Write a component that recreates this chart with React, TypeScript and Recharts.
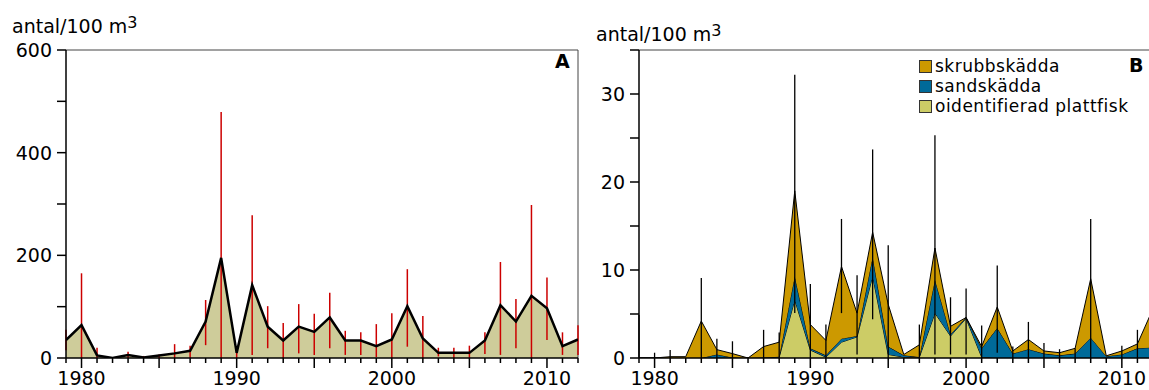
import React from "react";
import {
  ComposedChart,
  Area,
  Line,
  XAxis,
  YAxis,
  ErrorBar,
  ReferenceLine,
} from "recharts";

// years shared by both panels
const years = [
  1979, 1980, 1981, 1982, 1983, 1984, 1985, 1986, 1987, 1988, 1989, 1990,
  1991, 1992, 1993, 1994, 1995, 1996, 1997, 1998, 1999, 2000, 2001, 2002,
  2003, 2004, 2005, 2006, 2007, 2008, 2009, 2010, 2011, 2012,
];

// panel A: total flatfish (antal/100 m3)
const meanA = [
  35, 64, 5, 0, 6, 1, 5, 9, 14, 71, 195, 10, 142, 61, 34, 61, 51, 79, 34, 34,
  23, 36, 101, 38, 10, 10, 10, 34, 103, 71, 121, 97, 23, 36,
];
const lowA = [
  15, 0, 0, 0, 0, 0, 0, 0, 0, 25, 0, 0, 6, 19, 0, 9, 6, 19, 6, 6, 2, 0, 22, 0,
  3, 0, 0, 8, 6, 19, 0, 35, 6, 6,
];
const highA = [
  55, 165, 20, 2, 12, 4, 7, 27, 24, 113, 479, 14, 278, 101, 68, 105, 86, 127,
  53, 50, 66, 87, 173, 82, 20, 20, 24, 50, 187, 115, 298, 157, 50, 64,
];

// panel B: per species
const skrubbskadda = [
  0, 0, 0.15, 0.15, 4.2, 0.55, 0.45, 0, 1.25, 1.65, 9.7, 2.7, 1.7, 8.2, 2.6,
  2.8, 4.8, 0.1, 1.4, 3.6, 0.9, 0, 0.2, 2.4, 0.3, 1.1, 0.3, 0.3, 0.6, 6.7,
  0.05, 0.4, 0.5, 4.4,
];
const sandskadda = [
  0, 0, 0, 0, 0, 0.4, 0.05, 0, 0.05, 0.05, 2.7, 0.2, 0.2, 0.4, 0.1, 2.2, 0.9,
  0.2, 0, 3.8, 0.2, 0.1, 1.0, 3.4, 0.5, 1.0, 0.5, 0.3, 0.5, 2.3, 0.2, 0.4, 1.1,
  1.2,
];
const oidentifierad = [
  0, 0, 0, 0, 0, 0, 0, 0, 0, 0.1, 6.6, 0.9, 0.1, 1.8, 2.4, 9.3, 0.4, 0.1, 0.1,
  5.1, 2.5, 4.5, 0.1, 0, 0, 0, 0, 0, 0, 0, 0, 0, 0, 0,
];
const lowB = [
  0, 0, 0, 0.15, 0, 0, 0, 0, 0, 0, 5.1, 0, 0, 5.1, 0.4, 4.4, 0, 0.4, 0, 0.4,
  0.4, 0.4, 0, 0.6, 0, 0, 0, 0, 0, 0, 0.25, 0, 0, 0,
];
const highB = [
  4.9, 0.6, 0.9, 0.15, 9.1, 2.2, 1.9, 0, 3.2, 2.9, 32.2, 8.4, 3.8, 15.8, 9.4,
  23.7, 12.8, 0.4, 3.8, 25.3, 6.9, 7.9, 3.7, 10.5, 1.3, 4.1, 1.7, 1.0, 1.1,
  15.8, 0.25, 1.4, 3.2, 6.5,
];

const dataA = years.map((year, i) => ({
  year,
  mean: meanA[i],
  err: [Math.max(0, meanA[i] - lowA[i]), Math.max(0, highA[i] - meanA[i])],
}));

const dataB = years.map((year, i) => {
  const total = skrubbskadda[i] + sandskadda[i] + oidentifierad[i];
  return {
    year,
    skrubb: skrubbskadda[i],
    sand: sandskadda[i],
    oid: oidentifierad[i],
    total,
    err: [Math.max(0, total - lowB[i]), Math.max(0, highB[i] - total)],
  };
});

const FONT = "'DejaVu Sans', 'Liberation Sans', Arial, sans-serif";

const YearTick = (props: any) => {
  const { x, y, payload } = props;
  const yr = payload.value;
  const len = yr % 5 === 0 ? 10 : 5;
  return (
    <g>
      <line x1={x} x2={x} y1={y} y2={y + len} stroke="#000" strokeWidth={1.5} />
      {yr % 10 === 0 && (
        <text x={x} y={y + 27} textAnchor="middle" fontSize={19} fill="#000" fontFamily={FONT}>
          {yr}
        </text>
      )}
    </g>
  );
};

const makeValueTick = (labelEvery: number) => (props: any) => {
  const { x, y, payload } = props;
  const v = payload.value;
  return (
    <g>
      <line x1={x - 9} x2={x} y1={y} y2={y} stroke="#000" strokeWidth={1.5} />
      {v % labelEvery === 0 && (
        <text x={x - 14} y={y + 7} textAnchor="end" fontSize={19} fill="#000" fontFamily={FONT}>
          {v}
        </text>
      )}
    </g>
  );
};

const TickA = makeValueTick(200);
const TickB = makeValueTick(10);

const UnitLabel = ({ x, y }: { x: number; y: number }) => (
  <div style={{ position: "absolute", left: x, top: y, fontSize: 19, lineHeight: "19px", whiteSpace: "nowrap" }}>
    antal/100 m<span style={{ fontSize: 16, position: "relative", top: -5 }}>3</span>
  </div>
);

const legendItems = [
  { name: "skrubbskädda", color: "#cc9900" },
  { name: "sandskädda", color: "#006a99" },
  { name: "oidentifierad plattfisk", color: "#cccc66" },
];

export default function App() {
  return (
    <div
      style={{
        position: "absolute",
        left: 0,
        top: 0,
        width: 1149,
        height: 390,
        overflow: "hidden",
        background: "#fff",
        fontFamily: FONT,
        color: "#000",
      }}
    >
      <UnitLabel x={12} y={17} />
      <UnitLabel x={596} y={25} />

      {/* Panel A */}
      <div style={{ position: "absolute", left: 0, top: 0 }}>
        <ComposedChart
          width={600}
          height={390}
          data={dataA}
          margin={{ top: 50, right: 22, left: 0, bottom: 0 }}
        >
          <XAxis
            dataKey="year"
            type="number"
            domain={[1979, 2012]}
            ticks={years}
            interval={0}
            height={32}
            tickSize={0}
            tickMargin={0}
            tickLine={false}
            tick={<YearTick />}
            axisLine={{ stroke: "#000", strokeWidth: 1.5 }}
            allowDataOverflow
          />
          <YAxis
            type="number"
            domain={[0, 600]}
            ticks={[0, 100, 200, 300, 400, 500, 600]}
            interval={0}
            width={66}
            tickSize={0}
            tickMargin={0}
            tickLine={false}
            tick={<TickA />}
            axisLine={{ stroke: "#000", strokeWidth: 1.5 }}
            allowDataOverflow
          />
          <ReferenceLine y={600} stroke="#444" strokeWidth={1} />
          <ReferenceLine x={2012} stroke="#444" strokeWidth={1} />
          <Area
            type="linear"
            dataKey="mean"
            fill="#cecc9a"
            fillOpacity={1}
            stroke="none"
            isAnimationActive={false}
          />
          <Line dataKey="mean" stroke="none" dot={false} activeDot={false} isAnimationActive={false}>
            <ErrorBar dataKey="err" width={0} stroke="#cc0000" strokeWidth={1.5} direction="y" isAnimationActive={false} />
          </Line>
          <Line
            type="linear"
            dataKey="mean"
            stroke="#000"
            strokeWidth={2.5}
            dot={false}
            activeDot={false}
            isAnimationActive={false}
          />
        </ComposedChart>
      </div>
      <div style={{ position: "absolute", left: 555, top: 50, fontSize: 19, fontWeight: "bold" }}>A</div>

      {/* Panel B */}
      <div style={{ position: "absolute", left: 580, top: 0 }}>
        <ComposedChart
          width={600}
          height={390}
          data={dataB}
          margin={{ top: 50, right: 27, left: 0, bottom: 0 }}
        >
          <XAxis
            dataKey="year"
            type="number"
            domain={[1979, 2012]}
            ticks={years}
            interval={0}
            height={32}
            tickSize={0}
            tickMargin={0}
            tickLine={false}
            tick={<YearTick />}
            axisLine={{ stroke: "#000", strokeWidth: 1.5 }}
            allowDataOverflow
          />
          <YAxis
            type="number"
            domain={[0, 35]}
            ticks={[0, 5, 10, 15, 20, 25, 30, 35]}
            interval={0}
            width={59}
            tickSize={0}
            tickMargin={0}
            tickLine={false}
            tick={<TickB />}
            axisLine={{ stroke: "#000", strokeWidth: 1.5 }}
            allowDataOverflow
          />
          <ReferenceLine y={35} stroke="#444" strokeWidth={1} />
          <Area
            type="linear"
            dataKey="oid"
            stackId="b"
            fill="#cccc66"
            fillOpacity={1}
            stroke="#000"
            strokeWidth={1}
            isAnimationActive={false}
          />
          <Area
            type="linear"
            dataKey="sand"
            stackId="b"
            fill="#006a99"
            fillOpacity={1}
            stroke="#000"
            strokeWidth={1}
            isAnimationActive={false}
          />
          <Area
            type="linear"
            dataKey="skrubb"
            stackId="b"
            fill="#cc9900"
            fillOpacity={1}
            stroke="#000"
            strokeWidth={1}
            isAnimationActive={false}
          />
          <Line dataKey="total" stroke="none" dot={false} activeDot={false} isAnimationActive={false}>
            <ErrorBar dataKey="err" width={0} stroke="#000" strokeWidth={1.3} direction="y" isAnimationActive={false} />
          </Line>
        </ComposedChart>
      </div>

      {/* legend B */}
      <div style={{ position: "absolute", left: 919, top: 56, fontSize: 17, letterSpacing: 0.5 }}>
        {legendItems.map((it) => (
          <div key={it.name} style={{ display: "flex", alignItems: "center", height: 20, whiteSpace: "nowrap" }}>
            <span
              style={{
                display: "inline-block",
                width: 11,
                height: 11,
                background: it.color,
                border: "1px solid #333",
                marginRight: 3,
              }}
            />
            <span style={{ lineHeight: "20px" }}>{it.name}</span>
          </div>
        ))}
      </div>
      <div style={{ position: "absolute", left: 1129, top: 54, fontSize: 19, fontWeight: "bold" }}>B</div>
    </div>
  );
}
